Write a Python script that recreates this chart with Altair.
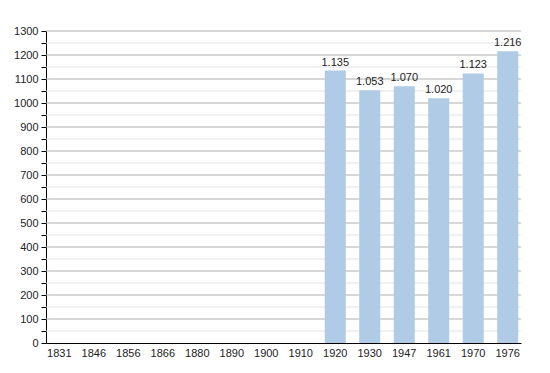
import altair as alt
import pandas as pd

years = ["1831", "1846", "1856", "1866", "1880", "1890", "1900", "1910",
         "1920", "1930", "1947", "1961", "1970", "1976"]
bar_years = ["1920", "1930", "1947", "1961", "1970", "1976"]
population = [1135, 1053, 1070, 1020, 1123, 1216]
major_ticks = list(range(0, 1301, 100))
minor_ticks = list(range(50, 1300, 100))

df = pd.DataFrame({"year": bar_years, "value": population})

FONT = "Liberation Sans"
yscale = alt.Scale(domain=[0, 1300], nice=False)
yaxis = alt.Axis(title=None, values=sorted(major_ticks + minor_ticks),
                 labelExpr="datum.value % 100 == 0 ? datum.label : ''",
                 format="d", labelOverlap=False, grid=False,
                 domainColor="black", tickColor="black", tickSize=5,
                 labelFont=FONT, labelFontSize=11, labelColor="#222",
                 labelPadding=3)
xscale = alt.Scale(domain=years, paddingInner=0.39, paddingOuter=0.08)

minor = alt.Chart(pd.DataFrame({"v": minor_ticks})).mark_rule(color="#e2e2e2", strokeWidth=1).encode(
    y=alt.Y("v:Q", scale=yscale, axis=yaxis))
major = alt.Chart(pd.DataFrame({"v": major_ticks[1:]})).mark_rule(color="#b0b0b0", strokeWidth=1).encode(
    y=alt.Y("v:Q", scale=yscale, axis=yaxis))

x = alt.X("year:N", scale=xscale,
          axis=alt.Axis(title=None, labelAngle=0, ticks=False, domainColor="black",
                        labelFont=FONT, labelFontSize=11, labelColor="#222",
                        labelPadding=4, grid=False))
y = alt.Y("value:Q", scale=yscale, axis=yaxis)

bars = alt.Chart(df).mark_bar(color="#b0cbe6").encode(x=x, y=y)
labels = alt.Chart(df).transform_calculate(
    lab="replace(format(datum.value, ','), ',', '.')"
).mark_text(baseline="bottom", dy=-3, font=FONT, fontSize=11, color="#222").encode(
    x=x, y=y, text="lab:N")

chart = alt.layer(minor, major, bars, labels).properties(
    width=475, height=312,
    autosize=alt.AutoSizeParams(type="none"),
    padding={"left": 46, "top": 31, "right": 29, "bottom": 30},
).configure_view(stroke=None)

chart.save("out.html", embed_options={"renderer": "svg", "actions": False})
